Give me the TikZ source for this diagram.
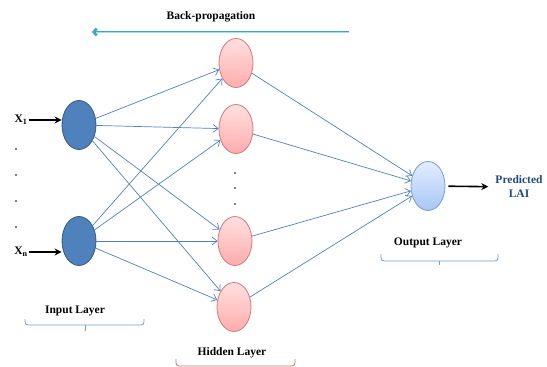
\documentclass[tikz,border=0pt]{standalone}
\usepackage{fontspec}
\setmainfont{Liberation Serif}
\usetikzlibrary{shapes.geometric,arrows.meta}

\definecolor{edgeblue}{RGB}{79,129,189}
\definecolor{infill}{RGB}{79,129,189}
\definecolor{inborder}{RGB}{52,88,132}
\definecolor{hidtop}{RGB}{255,224,224}
\definecolor{hidbot}{RGB}{255,172,172}
\definecolor{hidborder}{RGB}{214,120,120}
\definecolor{outtop}{RGB}{226,238,255}
\definecolor{outbot}{RGB}{168,198,246}
\definecolor{outborder}{RGB}{120,154,206}
\definecolor{bpcyan}{RGB}{62,165,195}
\definecolor{bplight}{RGB}{160,225,240}
\definecolor{laiblue}{RGB}{31,73,125}
\definecolor{bracein}{RGB}{120,155,200}
\definecolor{bracehid}{RGB}{205,110,110}

\tikzset{
	neuron/.style={ellipse, minimum width=34pt, minimum height=49pt, inner sep=0pt, line width=0.8pt},
	inputneuron/.style={neuron, draw=inborder, fill=infill},
	hiddenneuron/.style={neuron, draw=hidborder, top color=hidtop, bottom color=hidbot},
	outputneuron/.style={neuron, draw=outborder, top color=outtop, bottom color=outbot},
	weight/.style={draw=edgeblue, line width=0.7pt, -{Straight Barb[length=5pt,width=8pt]}},
	feed/.style={line width=1.6pt, -{Stealth[length=7pt,width=7pt]}},
	labeltext/.style={font=\fontsize{11.5}{14}\selectfont\bfseries, inner sep=1pt},
	bracket/.style={line width=0.8pt, rounded corners=3pt}
}

\begin{document}
\begin{tikzpicture}[x=1pt,y=-1pt]
	\useasboundingbox (0,0) rectangle (547,367);

	% input layer
	\node[inputneuron] (x1) at (79,125) {};
	\node[inputneuron] (xn) at (79,241) {};

	% hidden layer
	\node[hiddenneuron] (h1) at (236,63) {};
	\node[hiddenneuron] (h2) at (236,129) {};
	\node[hiddenneuron] (h3) at (235,241) {};
	\node[hiddenneuron] (h4) at (234,307) {};

	% output layer
	\node[outputneuron] (out) at (428,186) {};

	% inputs
	\node[labeltext] (lx1) at (21,120) {X\textsubscript{1}};
	\node[labeltext] (lxn) at (21,252) {X\textsubscript{n}};
	\draw[feed] (lx1.east) -- (lx1.east -| x1.west);
	\draw[feed] (lxn.east) -- (lxn.east -| xn.west);

	% dots
	\fill (16,149) circle (0.9) (16,175) circle (0.9) (16,201) circle (0.9) (16,227) circle (0.9);
	\fill (235,173) circle (0.9) (235,188) circle (0.9) (235,204) circle (0.9);

	% weights
	\foreach \i in {x1,xn}
		\foreach \h in {h1,h2,h3,h4}
			\draw[weight] (\i) -- (\h);
	\foreach \h in {h1,h2,h3,h4}
		\draw[weight] (\h) -- (out);

	% output
	\node[labeltext, text=laiblue, align=center] (pred) at (519,187) {Predicted\\LAI};
	\draw[feed, shorten <=3pt, shorten >=6pt] (out) -- (pred);

	% back-propagation
	\node[labeltext] (bp) at (211,17) {Back-propagation};
	\coordinate (bpstart) at (349,32);
	\coordinate (bpend) at (92,32);
	\draw[draw=bpcyan, line width=2.6pt, -{Straight Barb[length=3pt,width=7pt]}] (bpstart) -- (bpend);
	\draw[draw=bplight, line width=0.8pt, shorten >=4pt] (bpstart) -- (bpend);

	% layer labels
	\node[labeltext] (inlab) at (75,311) {Input Layer};
	\draw[bracket, draw=bracein] (25,319) |- (85,325) -| (144,319);
	\draw[draw=bracein, line width=0.8pt] (85,325) -- (85,331);
	\node[labeltext] (hidlab) at (232,353) {Hidden Layer};
	\draw[bracket, draw=bracehid] (176,359) |- (235,366) -| (295,359);
	\node[labeltext] (outlab) at (428,243) {Output Layer};
	\draw[bracket, draw=bracein] (381,254) |- (439,261) -| (498,254);
	\draw[draw=bracein, line width=0.8pt] (439,261) -- (439,265);

\end{tikzpicture}
\end{document}
